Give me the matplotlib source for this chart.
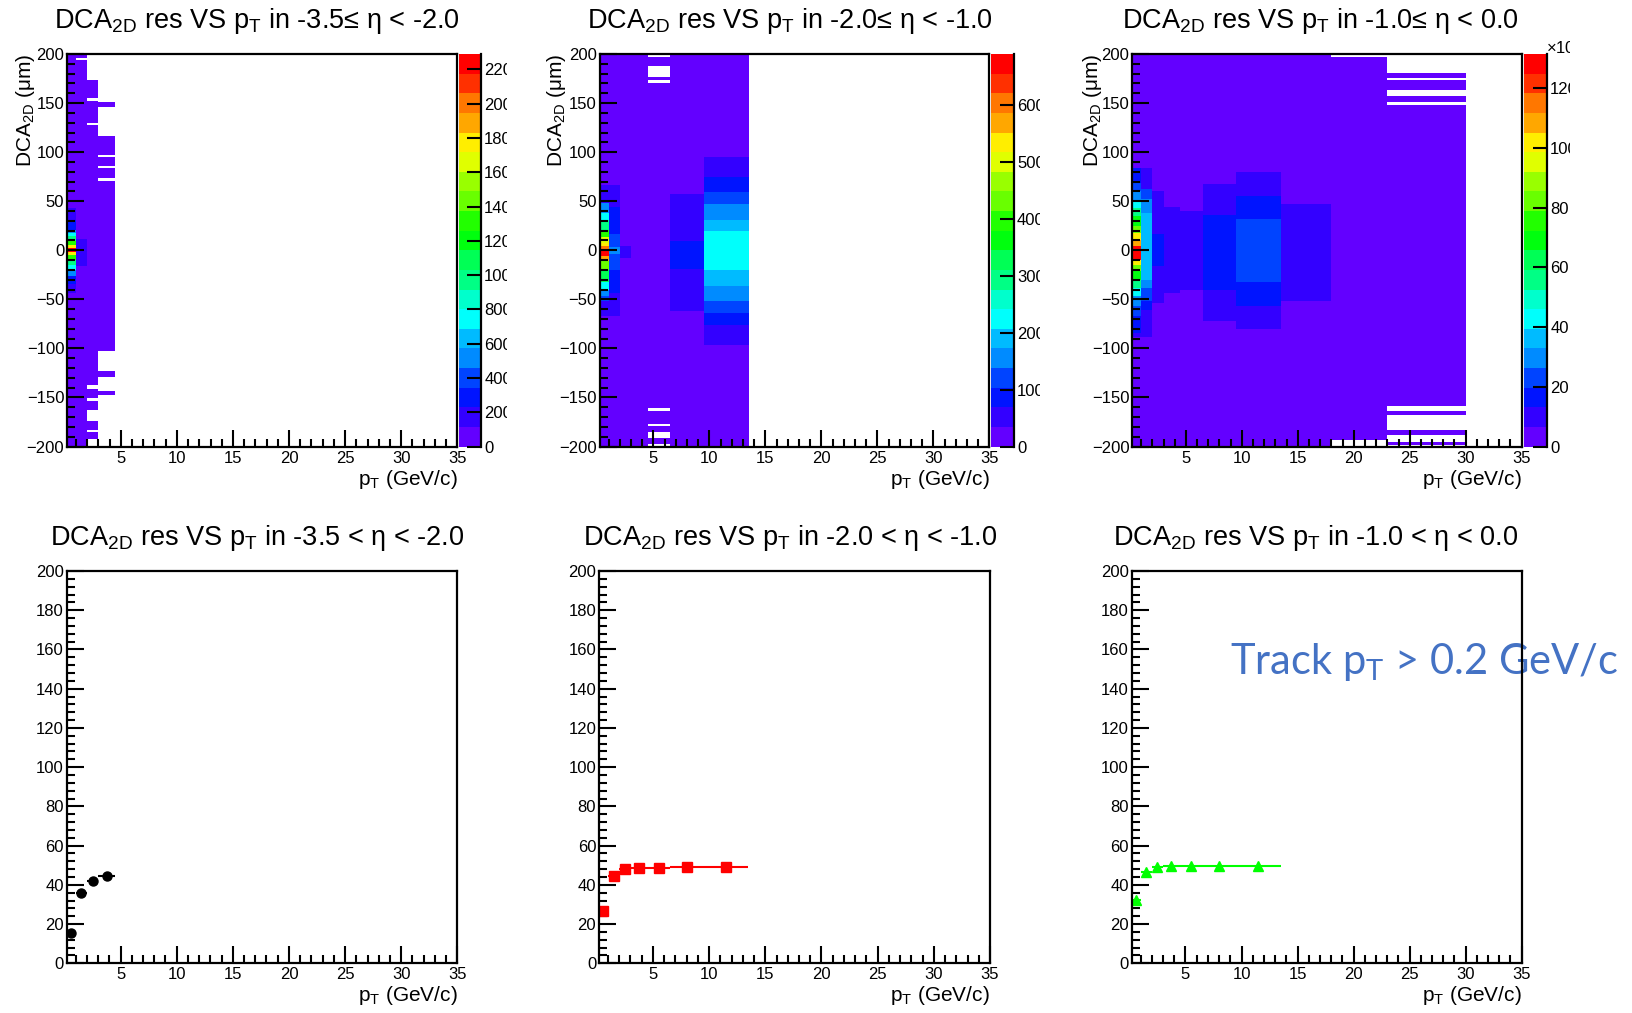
import colorsys

import matplotlib
matplotlib.use("Agg")
import matplotlib.pyplot as plt
import numpy as np
from matplotlib.colors import BoundaryNorm, ListedColormap
from matplotlib.ticker import FixedLocator, FuncFormatter, MultipleLocator
from matplotlib.transforms import Bbox, TransformedBbox

plt.rcParams["font.family"] = ["Liberation Sans", "DejaVu Sans"]
plt.rcParams["mathtext.default"] = "regular"

# pT binning (GeV/c), same for every panel
PT_EDGES = [0.2, 1.0, 2.0, 3.0, 4.5, 6.5, 9.5, 13.5, 18.0, 23.0, 30.0]

ETA_TOP = ["-3.5\u2264 \u03b7 < -2.0", "-2.0\u2264 \u03b7 < -1.0", "-1.0\u2264 \u03b7 < 0.0"]
ETA_BOTTOM = ["-3.5 < \u03b7 < -2.0", "-2.0 < \u03b7 < -1.0", "-1.0 < \u03b7 < 0.0"]

# 2D histogram contents, one list per pT bin: (DCA low, DCA high, entries)
# later entries overwrite earlier ones, 0 entries = empty bins
HIST_FWD = [
    [(-200, 200, 40), (-44, 43, 170), (-34, 31, 280), (-26, 21, 520), (-20, 18, 750),
     (-15, 15, 980), (-10, 9, 1320), (-5, 5, 1780), (-2, 2, 2250)],
    [(-200, 200, 40), (-16.5, 11.5, 170), (193.5, 195.5, 0)],
    [(-192.5, 173, 40), (152, 155.5, 0), (127.5, 130, 0), (-141, -137.5, 0),
     (-154, -151, 0), (-174, -163, 0), (-185.5, -183.5, 0)],
    [(-103, 116.5, 40), (146, 151, 40), (95, 97.5, 0), (84, 86, 0), (71, 73.5, 0),
     (-129, -123, 40), (-148, -143, 40)],
    [], [], [], [], [], [],
]
HIST_MID = [
    [(-200, 200, 10), (-67, 67, 50), (38, 48, 155), (31, 38, 225), (21, 31, 295),
     (14, 21, 395), (7, 14, 500), (4, 7, 535), (0, 4, 605), (-6, 0, 680),
     (-11, -6, 570), (-20, -11, 430), (-32, -20, 330), (-40, -32, 225),
     (-47, -40, 155), (-52, -47, 120)],
    [(-200, 200, 10), (-67, 67, 50), (-44, 44.5, 85), (-20, 17, 120), (-4, 3, 155)],
    [(-200, 200, 10), (-8, 4, 50)],
    [(-200, 200, 10)],
    [(-200, 200, 10), (196.5, 200, 0), (177, 188, 0), (170, 173.5, 0),
     (-164, -160.5, 0), (-179.5, -177, 0), (-191, -185.5, 0), (-200, -197.5, 0)],
    [(-200, 200, 10), (-62, 57, 50), (-19, 9, 85)],
    [(-200, 200, 10), (-96.5, 95.5, 50), (-76, 75, 85), (-64, 59.5, 120),
     (-52, 47.5, 155), (-36, 31, 190), (-20, 20, 225)],
    [], [], [],
]
HIST_CEN = [
    [(-200, 200, 3000), (-88, 84, 9900), (-84, 84, 16400), (-67.5, 68.5, 23000),
     (-57, 60, 29600), (-47, 51.5, 42700), (-38.5, 43, 55800), (-30, 34.4, 69000),
     (-21.6, 24.3, 82100), (-14.8, 17.5, 101800), (-9.7, 10.7, 108400),
     (-9.7, 3.9, 128000)],
    [(-200, 200, 3000), (-88, 84, 9900), (-61, 62, 16400), (-52, 62, 23000),
     (-38, 52, 29600), (-30, 38, 36100)],
    [(-200, 200, 3000), (-54, 60, 9900), (-16, 17, 16400)],
    [(-200, 200, 3000), (-44, 44, 9900)],
    [(-200, 200, 3000), (-40, 40, 9900)],
    [(-200, 200, 3000), (-72.5, 68, 9900), (-40, 36, 16400)],
    [(-200, 200, 3000), (-80, 80, 9900), (-56.5, 55, 16400), (-32, 32, 23000)],
    [(-200, 200, 3000), (-52, 47.5, 9900)],
    [(-193, 197, 3000)],
    [(-198.3, -194.9, 3000), (-188.1, -183, 3000), (-167.7, -163.3, 3000),
     (-159.2, 148.3, 3000), (151.1, 156.8, 3000), (163.6, 173.1, 3000),
     (175.8, 180.6, 3000)],
]
Z_MAX = [2290, 690, 131400]
Z_TICKS = [list(range(0, 2201, 200)), list(range(0, 601, 100)), list(range(0, 120001, 20000))]

# DCA2D resolution (um) per pT bin
RES_FWD = [15.6, 35.7, 42.1, 44.4]
RES_MID = [26.8, 44.7, 47.9, 48.4, 48.7, 49.0, 49.1]
RES_CEN = [32.3, 46.4, 49.1, 49.4, 49.6, 49.6, 49.7]

W, H = 1633, 1013


def rect(x0, x1, y0, y1):
    return [x0 / W, 1 - y1 / H, (x1 - x0) / W, (y1 - y0) / H]


def root_palette(ncont=20):
    """ROOT pretty palette (violet -> red) sampled at ncont contours"""
    cols = []
    for k in range(ncont):
        idx = int((k + 0.99) * 50 / ncont)
        hue = 0.0 if idx >= 49 else 280 - (idx + 1) * 5.6
        cols.append(colorsys.hls_to_rgb(hue / 360, 0.5, 1.0))
    return ListedColormap(cols)


def fill_hist(columns, dy=0.5):
    y_edges = np.arange(-200, 200 + dy, dy)
    yc = (y_edges[:-1] + y_edges[1:]) / 2
    z = np.full((len(yc), len(PT_EDGES) - 1), np.nan)
    for j, segs in enumerate(columns):
        for lo, hi, n in segs:
            z[(yc > lo) & (yc < hi), j] = n if n > 0 else np.nan
    return y_edges, z


def style_axes(ax, ymajor, yminor):
    ax.xaxis.set_major_locator(MultipleLocator(5))
    ax.xaxis.set_minor_locator(MultipleLocator(1))
    ax.yaxis.set_major_locator(MultipleLocator(ymajor))
    ax.yaxis.set_minor_locator(MultipleLocator(yminor))
    ax.tick_params(which="both", direction="in", top=False, right=False,
                   width=1.5, labelsize=12)
    ax.tick_params(which="major", length=12)
    ax.tick_params(which="minor", length=6)
    ax.tick_params(axis="x", pad=3)
    ax.tick_params(axis="y", pad=2)
    for s in ax.spines.values():
        s.set_linewidth(1.6)
    ax.set_xlim(0.2, 35)
    ax.set_xlabel("p$_{T}$ (GeV/c)", fontsize=15, loc="right")
    ax.xaxis.label.set_va("baseline")
    ax.xaxis.set_label_coords(1.0, -38 / 392)


def main():
    fig = plt.figure(figsize=(W / 100, H / 100), dpi=100)
    cmap = root_palette()

    top_ax = [(67, 457.3), (599.6, 989.4), (1132.2, 1521.6)]
    top_cb = [(459, 481.4), (991.4, 1014.2), (1523.7, 1547.4)]
    clip_x = [507, 1040, 1570]
    ylab_x = [14, 545, 1081]
    title_x_top = [257, 790, 1320]
    bot_ax = [(66.7, 457.3), (599, 990), (1131.7, 1521.7)]
    title_x_bot = [257, 790, 1316]

    hists = [HIST_FWD, HIST_MID, HIST_CEN]
    for i in range(3):
        ax = fig.add_axes(rect(top_ax[i][0], top_ax[i][1], 54, 446.5))
        y_edges, z = fill_hist(hists[i])
        norm = BoundaryNorm(np.linspace(0, Z_MAX[i], 21), cmap.N)
        mesh = ax.pcolormesh(PT_EDGES, y_edges, z, cmap=cmap, norm=norm,
                             edgecolors="none", antialiased=False)
        style_axes(ax, 50, 10)
        ax.set_ylim(-200, 200)

        cax = fig.add_axes(rect(top_cb[i][0], top_cb[i][1], 54, 446.5))
        cb = fig.colorbar(mesh, cax=cax)
        cb.outline.set_visible(False)
        cax.spines["right"].set_visible(True)
        cax.spines["right"].set_linewidth(1.6)
        cax.yaxis.set_major_locator(FixedLocator(Z_TICKS[i]))
        cax.yaxis.set_minor_locator(FixedLocator([]))
        if i == 2:
            cax.yaxis.set_major_formatter(FuncFormatter(lambda v, p: f"{v / 1000:.0f}"))
        cax.tick_params(direction="in", length=10, width=1.5, labelsize=12, pad=2)

        clip = TransformedBbox(Bbox.from_extents(0, 0, clip_x[i] / W, 1), fig.transFigure)
        fig.canvas.draw()
        for t in cax.yaxis.get_major_ticks():
            t.label1.set_clip_box(clip)
            t.label1.set_clip_on(True)
            t.label2.set_clip_box(clip)
            t.label2.set_clip_on(True)
        if i == 2:
            fig.text(1546 / W, 1 - 46 / H, "\u00d710$^{3}$", fontsize=12,
                     va="center", ha="left", clip_box=clip, clip_on=True)

        fig.text(ylab_x[i] / W, 1 - 54 / H, "DCA$_{2D}$ (\u03bcm)", fontsize=15,
                 rotation=90, ha="left", va="top")
        fig.text(title_x_top[i] / W, 1 - 28 / H,
                 "DCA$_{2D}$ res VS p$_{T}$ in " + ETA_TOP[i],
                 fontsize=19.5, ha="center", va="baseline")

    res = [RES_FWD, RES_MID, RES_CEN]
    styles = [("o", "black", 6.5), ("s", "#ff0000", 6.5), ("^", "#00ff00", 7.5)]
    edges = np.array(PT_EDGES)
    centers = (edges[:-1] + edges[1:]) / 2
    half = (edges[1:] - edges[:-1]) / 2
    for i in range(3):
        ax = fig.add_axes(rect(bot_ax[i][0], bot_ax[i][1], 571, 963.3))
        n = len(res[i])
        m, c, ms = styles[i]
        ax.errorbar(centers[:n], res[i], xerr=half[:n], fmt=m, color=c, ms=ms,
                    elinewidth=1.5, capsize=0)
        style_axes(ax, 20, 4)
        ax.set_ylim(0, 200)
        if i == 2:
            ax.set_facecolor("none")
        fig.text(title_x_bot[i] / W, 1 - 545 / H,
                 "DCA$_{2D}$ res VS p$_{T}$ in " + ETA_BOTTOM[i],
                 fontsize=19.5, ha="center", va="baseline")

    fig.text(1230 / W, 1 - 674 / H, "Track p$_{T}$ > 0.2 GeV/c", fontsize=30,
             family=["Lato", "DejaVu Sans"], color="#4472c4", ha="left",
             va="baseline", zorder=-1)

    fig.savefig("out.png", dpi=100)


if __name__ == "__main__":
    main()
